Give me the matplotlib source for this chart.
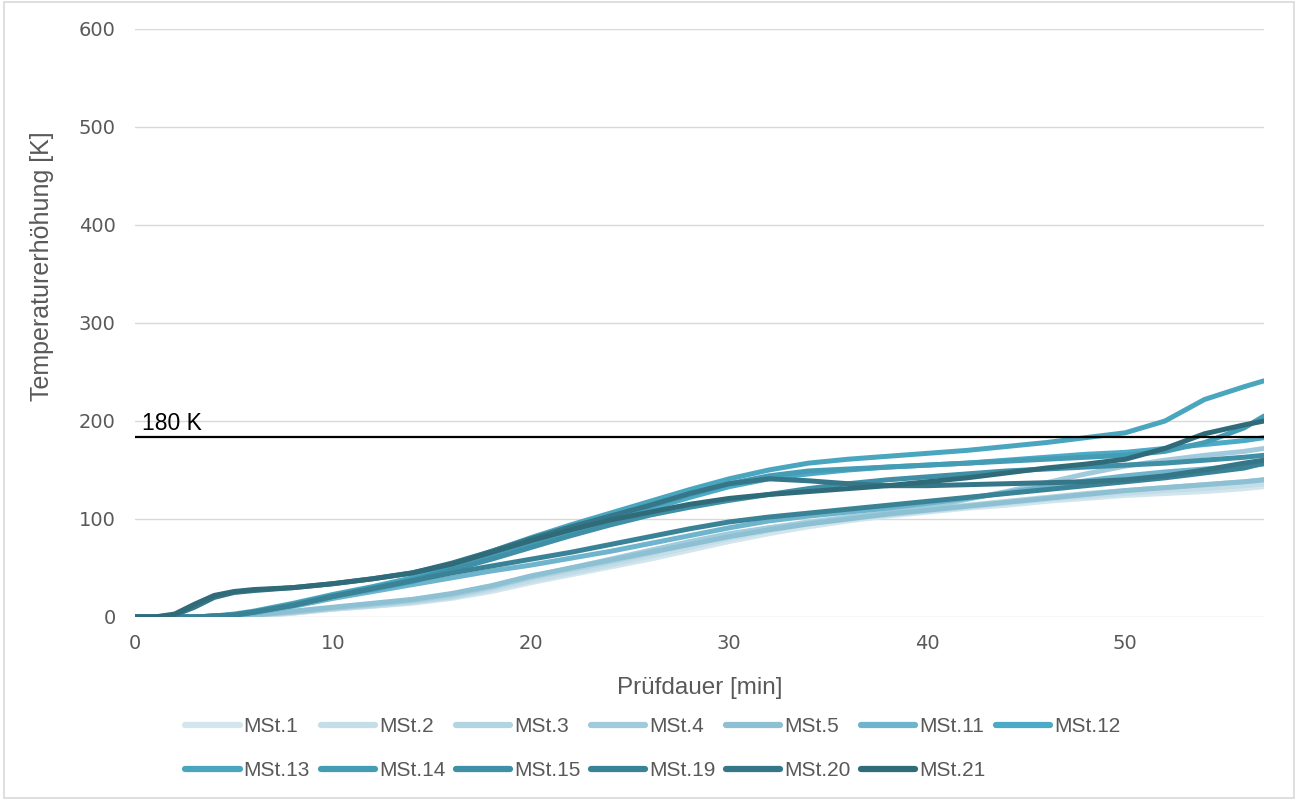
import matplotlib
matplotlib.use("Agg")
import matplotlib.pyplot as plt
from matplotlib.patches import Rectangle

# ---- data ----
t = [0, 1, 2, 3, 4, 5, 6, 8, 10, 12, 14, 16, 18, 20, 22, 24, 26, 28, 30, 32,
     34, 36, 38, 40, 42, 44, 46, 48, 50, 52, 54, 56, 57]

mst1 = [0, 0, 0, 0, 0, 0, 1, 4, 8, 11, 14, 19, 26, 35, 43, 51, 59, 68, 77, 85,
        92, 98, 103, 107, 111, 114, 118, 121, 124, 126, 128, 131, 133]
mst2 = [0, 0, 0, 0, 0, 0, 1, 4, 8, 11, 15, 20, 28, 37, 45, 53, 62, 71, 80, 88,
        95, 100, 104, 108, 112, 116, 120, 123, 126, 129, 131, 134, 136]
mst3 = [0, 0, 0, 0, 0, 1, 2, 5, 9, 12, 16, 21, 30, 40, 48, 56, 65, 75, 84, 91,
        97, 102, 106, 110, 114, 118, 122, 126, 129, 132, 135, 138, 140]
mst4 = [0, 0, 0, 0, 0, 1, 2, 5, 9, 13, 17, 23, 31, 41, 50, 59, 68, 77, 85, 91,
        96, 101, 106, 112, 120, 128, 137, 146, 154, 160, 165, 169, 172]
mst5 = [0, 0, 0, 0, 0, 1, 2, 6, 10, 14, 18, 24, 32, 42, 50, 58, 66, 74, 82, 89,
        95, 100, 105, 109, 113, 117, 121, 125, 129, 132, 135, 138, 140]
mst11 = [0, 0, 0, 0, 0, 1, 4, 11, 19, 26, 33, 40, 47, 53, 60, 67, 75, 83, 91, 98,
         103, 107, 111, 116, 121, 127, 133, 139, 144, 148, 151, 154, 156]
mst12 = [0, 0, 0, 0, 1, 2, 5, 12, 21, 28, 36, 48, 60, 73, 86, 98, 110, 122, 133, 141,
         146, 150, 153, 155, 157, 160, 163, 166, 168, 172, 176, 180, 183]
mst13 = [0, 0, 0, 0, 1, 3, 6, 14, 23, 31, 40, 53, 67, 81, 94, 106, 118, 130, 141, 150,
         157, 161, 164, 167, 170, 174, 178, 183, 188, 200, 222, 235, 241]
mst14 = [0, 0, 0, 0, 1, 2, 5, 13, 22, 30, 38, 50, 63, 76, 89, 101, 113, 125, 136, 144,
         149, 151, 153, 155, 157, 159, 161, 163, 165, 169, 178, 193, 205]
mst15 = [0, 0, 0, 0, 1, 2, 5, 12, 21, 29, 37, 48, 59, 71, 83, 94, 104, 112, 119, 125,
         131, 136, 140, 143, 146, 149, 151, 153, 155, 157, 160, 163, 165]
mst19 = [0, 0, 0, 0, 1, 2, 5, 12, 21, 29, 37, 45, 52, 59, 66, 74, 82, 90, 97, 102,
         106, 110, 114, 118, 122, 126, 130, 134, 138, 142, 147, 152, 157]
mst20 = [0, 0, 2, 10, 20, 25, 27, 30, 34, 39, 45, 55, 67, 80, 92, 103, 114, 126, 136, 141,
         139, 136, 134, 134, 135, 136, 137, 138, 140, 144, 150, 157, 160]
mst21 = [0, 0, 3, 13, 22, 26, 28, 30, 34, 39, 45, 54, 66, 78, 89, 99, 107, 115, 121, 125,
         128, 131, 134, 138, 142, 147, 152, 156, 161, 172, 187, 196, 200]

names = ["MSt.1", "MSt.2", "MSt.3", "MSt.4", "MSt.5", "MSt.11", "MSt.12",
         "MSt.13", "MSt.14", "MSt.15", "MSt.19", "MSt.20", "MSt.21"]
series = [mst1, mst2, mst3, mst4, mst5, mst11, mst12,
          mst13, mst14, mst15, mst19, mst20, mst21]
colors = ["#d3e6ee", "#c3dee8", "#b3d5e2", "#a1cbdc", "#8dc0d3", "#6db4cc", "#4baac5",
          "#4aa6bf", "#459cb5", "#3f8fa7", "#3a8397", "#357789", "#306b7a"]

limit_value = 184
limit_label = "180 K"

x_ticks = [0, 10, 20, 30, 40, 50]
y_ticks = [0, 100, 200, 300, 400, 500, 600]

# ---- figure ----
fig = plt.figure(figsize=(12.98, 8.0), dpi=100)
ax = fig.add_axes([135 / 1298, 1 - 617 / 800, (1264 - 135) / 1298, (617 - 29) / 800])

lines = {}
for name, vals, col in zip(names, series, colors):
    lines[name], = ax.plot(t, vals, color=col, lw=3.6, label=name,
                           solid_capstyle="round", solid_joinstyle="round")

ax.axhline(limit_value, color="black", lw=1.6, zorder=5)
ax.text(0.35, limit_value + 1.5, limit_label, fontsize=16.5, color="black",
        family=["Liberation Sans", "DejaVu Sans"], va="bottom", ha="left")

ax.set_xlim(0, 57)
ax.set_ylim(0, 600)
ax.set_xticks(x_ticks)
ax.set_yticks(y_ticks)
ax.yaxis.grid(True, color="#d9d9d9", lw=1)
ax.set_axisbelow(True)
for s in ax.spines.values():
    s.set_visible(False)
ax.tick_params(length=0, labelsize=14, colors="#595959")
ax.tick_params(axis="x", pad=12)
ax.tick_params(axis="y", pad=14)
for lab in ax.get_xticklabels() + ax.get_yticklabels():
    lab.set_family(["DejaVu Sans"])

lab_font = ["Liberation Sans Narrow", "Liberation Sans", "DejaVu Sans"]
ax.set_xlabel("Prüfdauer [min]", fontsize=17.5, color="#595959", family=lab_font)
ax.xaxis.set_label_coords(0.5, -(688 - 617) / 588, transform=ax.transAxes)
ax.xaxis.label.set_va("center")
ax.set_ylabel("Temperaturerhöhung [K]", fontsize=18, color="#595959", family=lab_font)
ax.yaxis.set_label_coords(-(135 - 42) / 1129, (617 - 266) / 588)
ax.yaxis.label.set_va("center")

# legend in row-major order (7 per row)
order = ["MSt.1", "MSt.13", "MSt.2", "MSt.14", "MSt.3", "MSt.15", "MSt.4", "MSt.19",
         "MSt.5", "MSt.20", "MSt.11", "MSt.21", "MSt.12"]
leg = fig.legend([lines[n] for n in order], order, loc="center",
                 bbox_to_anchor=(653 / 1298, 1 - 749 / 800), ncol=7,
                 frameon=False, handlelength=2.6, handletextpad=0.2, columnspacing=0.5,
                 labelspacing=1.2, prop={"family": lab_font, "size": 15})
for txt in leg.get_texts():
    txt.set_color("#595959")
for h in leg.get_lines():
    h.set_linewidth(4.5)
    h.set_solid_capstyle("round")

fig.patches.append(Rectangle((0.003, 0.003), 0.994, 0.994, transform=fig.transFigure,
                             fill=False, edgecolor="#d9d9d9", lw=1.2))

fig.savefig("out.png", dpi=100, facecolor="white")
